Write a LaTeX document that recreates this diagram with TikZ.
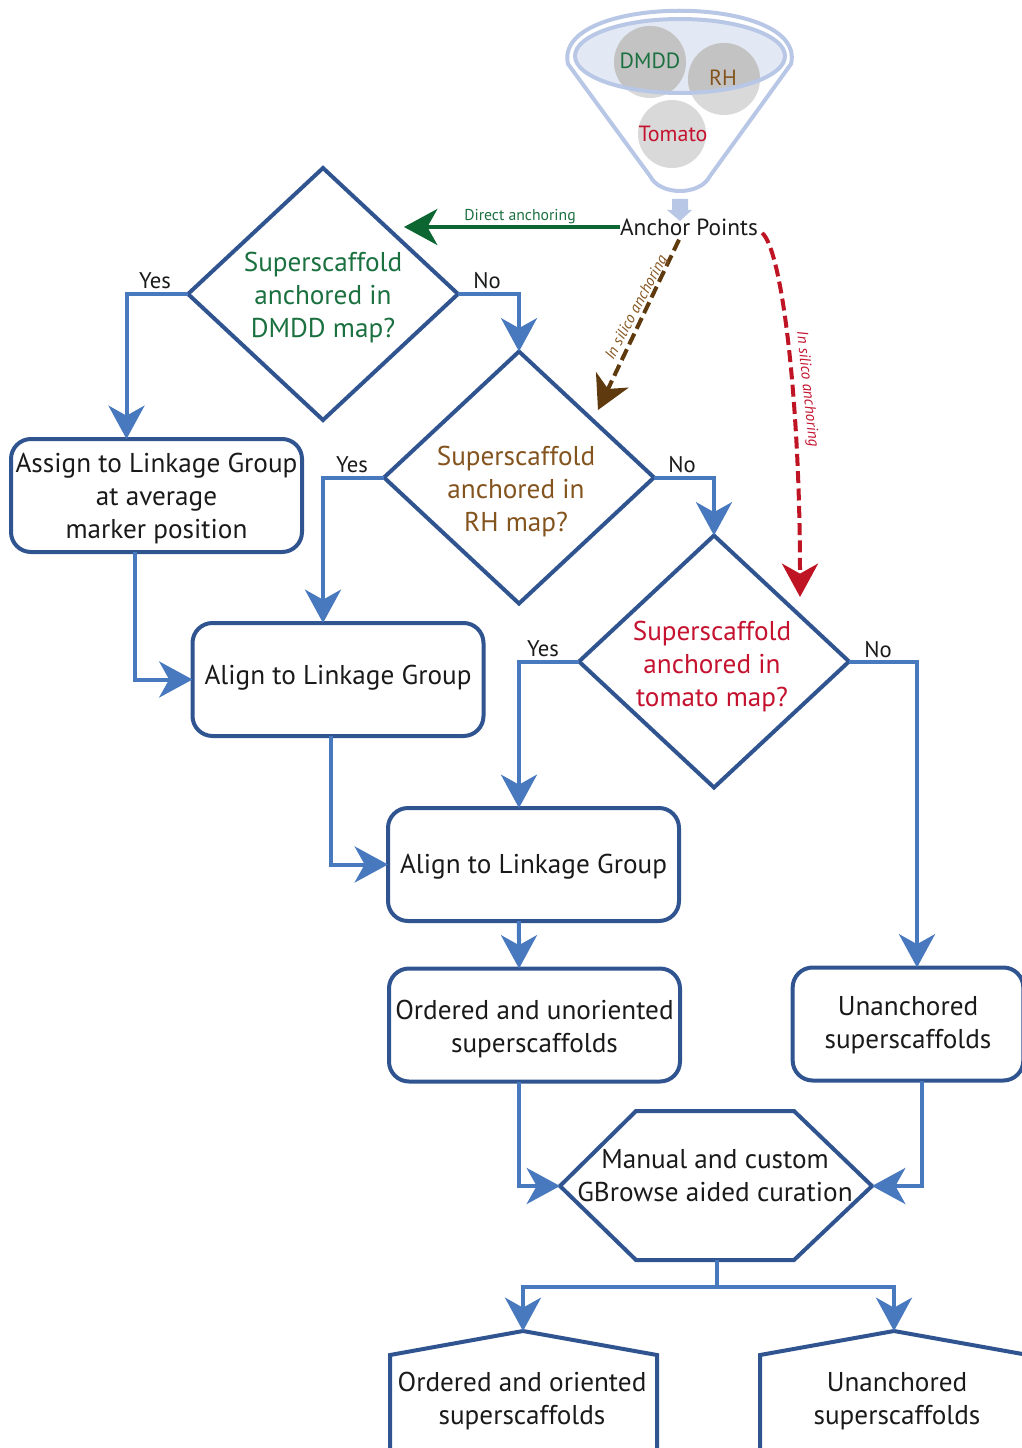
\documentclass[tikz,border=0pt]{standalone}
\usepackage{fontspec}
\setmainfont{PT Sans}
\usetikzlibrary{arrows.meta,shapes.geometric,calc}
\definecolor{nodeblue}{HTML}{2F5490}
\definecolor{flowblue}{HTML}{4878BE}
\definecolor{funnelblue}{HTML}{B9C7E6}
\definecolor{rimfill}{HTML}{E3E9F4}
\definecolor{ballgrey}{HTML}{D9D9D9}
\definecolor{balldark}{HTML}{C3C3C3}
\definecolor{mapgreen}{HTML}{0B6632}
\definecolor{txtgreen}{HTML}{1B7040}
\definecolor{mapbrown}{HTML}{5E3A0E}
\definecolor{txtbrown}{HTML}{84541F}
\definecolor{mapred}{HTML}{BE1424}
\definecolor{txtred}{HTML}{C4122F}
\definecolor{ink}{HTML}{1A1A1A}
\tikzset{
  bigtip/.style={-{Stealth[length=25pt,width=27pt,inset=7.5pt,#1]}},
  txt/.style={font=\fontsize{20.4}{24.75}\selectfont,align=center,text=ink,inner sep=0pt,outer sep=0pt},
  qtxt/.style={txt,text=#1},
  smalltxt/.style={font=\fontsize{17}{20}\selectfont,text=ink,inner sep=0pt},
  tinytxt/.style={font=\fontsize{11.8}{14}\selectfont,text=#1,inner sep=0pt},
  balltxt/.style={font=\fontsize{16.5}{20}\selectfont,text=#1,inner sep=0pt},
  decision/.style={diamond,draw=nodeblue,line width=3pt,minimum width=202.5pt,minimum height=189pt,inner sep=0pt,outer sep=0pt,line join=miter},
  stepbox/.style={txt,rectangle,rounded corners=15pt,draw=nodeblue,line width=3pt,minimum width=218.25pt,minimum height=84.75pt},
  shapeline/.style={draw=nodeblue,line width=3pt,line join=miter},
  flow/.style={draw=flowblue,line width=3pt,line join=miter,bigtip=flowblue},
  flowplain/.style={draw=flowblue,line width=3pt,line join=miter},
  anchordash/.style={line width=3pt,dash pattern=on 9pt off 4pt},
}
\begin{document}
\begin{tikzpicture}[x=0.75pt,y=-0.75pt]
\useasboundingbox (0,0) rectangle (1021,1448);
% funnel
\fill[rimfill] (680,56) ellipse [x radius=105,y radius=37];
\coordinate (funL) at (568,64);
\coordinate (funR) at (791,64);
\draw[funnelblue,line width=3pt,line join=round]
  (funL) .. controls (552,-7) and (808,-7) .. (funR)
  -- (710,176) .. controls (700,196) and (660,196) .. (650,176) -- cycle;
\fill[ballgrey] (650,62) circle [radius=36];
\fill[ballgrey] (724,79) circle [radius=36];
\fill[ballgrey] (672,134) circle [radius=34];
\begin{scope}
\clip (680,56) ellipse [x radius=105,y radius=37];
\fill[balldark] (650,62) circle [radius=36];
\fill[balldark] (724,79) circle [radius=36];
\end{scope}
\draw[funnelblue,line width=3pt] (680,56) ellipse [x radius=105,y radius=37];
\fill[funnelblue] (672,199) -- (688,199) -- (688,210) -- (692,210) -- (680,221) -- (667,210) -- (672,210) -- cycle;
\node[balltxt=txtgreen] (dmddball) at (650,61) {DMDD};
\node[balltxt=txtbrown] (rhball) at (723,78) {RH};
\node[balltxt=txtred] (tomatoball) at (673,134) {Tomato};
\node[smalltxt,font=\fontsize{17.5}{20}\selectfont] (anchor) at (689,227) {Anchor Points};
% decisions
\node[decision] (d1) at (323,294) {};
\node[decision] (d2) at (519,477.5) {};
\node[decision] (d3) at (714,661.5) {};
\node[qtxt=txtgreen] (d1t) at (323,298) {Superscaffold\\anchored in\\DMDD map?};
\node[qtxt=txtbrown] (d2t) at (516,492) {Superscaffold\\anchored in\\RH map?};
\node[qtxt=txtred] (d3t) at (712,667) {Superscaffold\\anchored in\\tomato map?};
% boxes
\node[stepbox] (assign) at (156.5,495.5) {\rule{0pt}{19.5pt}Assign to Linkage Group\\at average\\marker position};
\node[stepbox] (alignA) at (338,679.5) {\rule[-7.5pt]{0pt}{7.5pt}Align to Linkage Group};
\node[stepbox] (alignB) at (533.5,864.5) {\rule{0pt}{17.6pt}Align to Linkage Group};
\node[stepbox] (ordun) at (534.5,1025) {\rule{0pt}{20.6pt}Ordered and unoriented\\superscaffolds};
\node[stepbox,minimum width=173pt] (unanch) at (908,1024) {\rule{0pt}{16pt}Unanchored\\superscaffolds};
% hexagon
\coordinate (hexL) at (560,1186);
\coordinate (hexR) at (872,1186);
\coordinate (hexB) at (717,1260);
\draw[shapeline] (hexL) -- (636,1111) -- (794,1111) -- (hexR) -- (794,1260) -- (636,1260) -- cycle;
\node[txt] (hext) at (715,1176) {Manual and custom\\GBrowse aided curation};
% pentagons
\coordinate (penL) at (523,1331);
\coordinate (penR) at (894,1331);
\draw[shapeline] (390,1480) -- (390,1355) -- (penL) -- (657,1355) -- (657,1480);
\draw[shapeline] (760,1480) -- (760,1355) -- (penR) -- (1028,1355) -- (1028,1480);
\node[txt] (penLt) at (522,1401.5) {Ordered and oriented\\superscaffolds};
\node[txt] (penRt) at (897,1401.5) {Unanchored\\superscaffolds};
% flows
\draw[flow] (d1.west) -| ([xshift=-22.5pt]assign.north);
\draw[flow] (d1.east) -| (d2.north);
\draw[flow] (d2.west) -| ([xshift=-11.25pt]alignA.north);
\draw[flow] (d2.east) -| (d3.north);
\draw[flow] (d3.west) -| ([xshift=-10.9pt]alignB.north);
\draw[flow] (d3.east) -| ([xshift=6.75pt]unanch.north);
\draw[flow] ([xshift=-16pt]assign.south) |- (alignA.west);
\draw[flow] ([xshift=-5.25pt]alignA.south) |- (alignB.west);
\draw[flow] ([xshift=-10.9pt]alignB.south) -- ([xshift=-11.6pt]ordun.north);
\draw[flow] ([xshift=-11.6pt]ordun.south) |- (hexL);
\draw[flow] ([xshift=10.5pt]unanch.south) |- (hexR);
\coordinate (branch) at (717,1287);
\draw[flowplain] (hexB) -- (branch);
\draw[flow] (branch) -| (penL);
\draw[flow] (branch) -| (penR);
% yes / no
\node[smalltxt] (y1) at (155,281) {Yes};
\node[smalltxt] (n1) at (487,281) {No};
\node[smalltxt] (y2) at (352,465) {Yes};
\node[smalltxt] (n2) at (682,465) {No};
\node[smalltxt] (y3) at (543,649) {Yes};
\node[smalltxt] (n3) at (878,650) {No};
% anchoring arrows
\coordinate (d1in) at (404,227);
\coordinate (d2in) at (598,410);
\coordinate (d3in) at (800,597);
\draw[mapgreen,line width=3pt,bigtip=mapgreen] (anchor.west) -- (d1in);
\draw[mapbrown,anchordash,bigtip=mapbrown] ($(anchor.south)+(-10,4)$) -- (d2in);
\draw[mapred,anchordash,bigtip=mapred] (anchor.east) ++(4,6) .. controls (782,250) and (800,400) .. (d3in);
\node[tinytxt=txtgreen] (lab1) at (520,217) {Direct anchoring};
\node[tinytxt=txtbrown,rotate=62,font=\fontsize{11.6}{14}\selectfont\itshape] (lab2) at (637,308) {In silico anchoring};
\node[tinytxt=txtred,rotate=-84,font=\fontsize{11.6}{14}\selectfont\itshape] (lab3) at (807,389) {In silico anchoring};
\end{tikzpicture}
\end{document}
